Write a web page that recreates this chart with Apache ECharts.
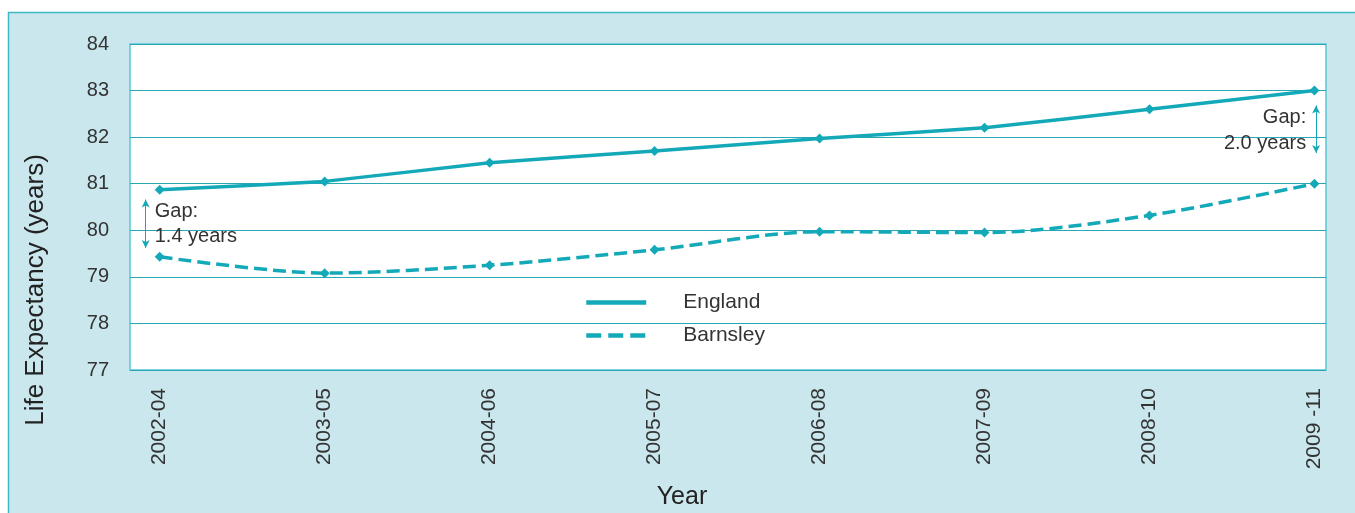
<!DOCTYPE html>
<html>
<head>
<meta charset="utf-8">
<script src="https://cdn.jsdelivr.net/npm/echarts@6/dist/echarts.min.js"></script>
<style>
  html, body { margin: 0; padding: 0; background: #fff; }
  #chart { width: 1355px; height: 513px; }
</style>
</head>
<body>
<div id="chart"></div>
<script>
// 数据
const years = ["2002-04", "2003-05", "2004-06", "2005-07", "2006-08", "2007-09", "2008-10", "2009 -11"];
const england = [80.87, 81.05, 81.45, 81.7, 81.97, 82.2, 82.6, 83.0];
const barnsley = [79.43, 79.08, 79.25, 79.58, 79.97, 79.95, 80.32, 81.0];
const yTicks = [77, 78, 79, 80, 81, 82, 83, 84];

const teal = "#14a9b8";
const font = "Liberation Sans, Arial, sans-serif";

const chart = echarts.init(document.getElementById("chart"));

const option = {
    backgroundColor: "#fff",
    animation: false,
    textStyle: { fontFamily: font },
    // 外框背景
    graphic: [{
        type: "rect",
        z: -10,
        shape: { x: 8.5, y: 12.5, width: 1360, height: 510 },
        style: { fill: "#c9e7ed", stroke: "#3db9c8", lineWidth: 1.5 },
    }],
    grid: {
        left: 130,
        right: 29,
        top: 44,
        bottom: 143,
        outerBoundsMode: "none",
        containLabel: false,
        show: true,
        backgroundColor: "#fff",
        borderColor: "#5cc6d2",
        borderWidth: 1.5,
    },
    legend: {
        orient: "vertical",
        left: 579,
        top: 287,
        itemWidth: 60,
        itemHeight: 14,
        itemGap: 12,
        textStyle: { fontSize: 21, color: "#333", padding: [0, 0, 0, 32] },
        itemStyle: { opacity: 0 },
        data: [
            { name: "England", lineStyle: { width: 4.5 } },
            { name: "Barnsley", lineStyle: { width: 4.5, type: [15, 7] } },
        ],
    },
    xAxis: {
        type: "value",
        min: -0.18,
        max: 7.07,
        name: "Year",
        nameLocation: "middle",
        nameGap: 115,
        nameTextStyle: { fontSize: 25, color: "#222", padding: [0, 92, 0, 0] },
        axisLine: { show: false },
        axisTick: { show: false },
        splitLine: { show: false },
        axisLabel: {
            customValues: years.map((_, i) => i),
            formatter: (v) => years[Math.round(v)],
            rotate: 90,
            margin: 18,
            fontSize: 21,
            color: "#333",
        },
    },
    yAxis: {
        type: "value",
        min: yTicks[0],
        max: yTicks[yTicks.length - 1],
        interval: 1,
        name: "Life Expectancy (years)",
        nameLocation: "middle",
        nameRotate: 90,
        nameGap: 81,
        nameTextStyle: { fontSize: 26, color: "#222", padding: [0, 166, 0, 0] },
        axisLine: { show: false },
        axisTick: { show: false },
        axisLabel: { margin: 21, fontSize: 20, color: "#333" },
        splitLine: { lineStyle: { color: "#2aa7b5", width: 1 } },
    },
    series: [
        {
            name: "England",
            type: "line",
            data: england.map((v, i) => [i, v]),
            smooth: 0.1,
            symbol: "diamond",
            symbolSize: 10,
            itemStyle: { color: teal },
            lineStyle: { color: teal, width: 3.5 },
            // 差距标注
            markLine: {
                silent: true,
                symbol: ["arrow", "arrow"],
                symbolSize: [6, 8],
                label: { show: false },
                lineStyle: { color: teal, width: 1, type: "solid" },
                data: [
                    [{ coord: [-0.085, 80.66] }, { coord: [-0.085, 79.62] }],
                    [{ coord: [7.01, 82.68] }, { coord: [7.01, 81.66] }],
                ],
            },
            markPoint: {
                silent: true,
                symbol: "circle",
                symbolSize: 0,
                data: [
                    {
                        coord: [-0.03, 80.14],
                        label: { show: true, position: "right", distance: 0, align: "left",
                            formatter: "Gap:\n1.4 years", fontSize: 20, lineHeight: 25, color: "#333" },
                    },
                    {
                        coord: [6.95, 82.15],
                        label: { show: true, position: "left", distance: 0, align: "right",
                            formatter: "Gap:\n2.0 years", fontSize: 20, lineHeight: 26, color: "#333" },
                    },
                ],
            },
        },
        {
            name: "Barnsley",
            type: "line",
            data: barnsley.map((v, i) => [i, v]),
            smooth: 0.3,
            symbol: "diamond",
            symbolSize: 10,
            itemStyle: { color: teal },
            lineStyle: { color: teal, width: 3.5, type: [13, 6] },
        },
    ],
};

chart.setOption(option);
</script>
</body>
</html>
